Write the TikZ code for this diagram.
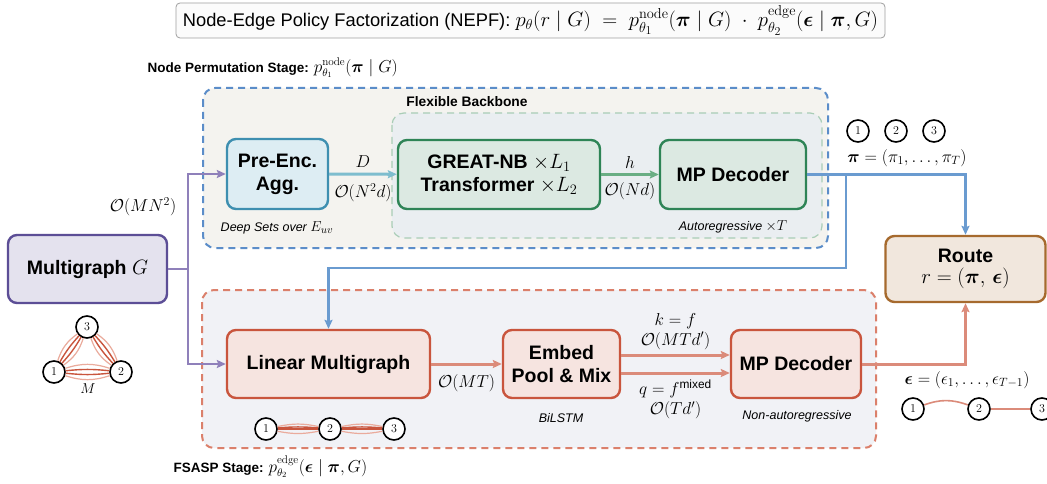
\documentclass[tikz,border=0pt]{standalone}
\usepackage{amsmath,amssymb}
\usepackage{fontspec}
\setsansfont{Liberation Sans}
\usetikzlibrary{arrows.meta,calc}

\definecolor{blueD}{HTML}{5B8DC9}
\definecolor{panelB}{HTML}{F4F3EF}
\definecolor{greenDash}{HTML}{A9CDB6}
\definecolor{panelG}{HTML}{EAEEF1}
\definecolor{tealD}{HTML}{3E8FB0}
\definecolor{tealF}{HTML}{DDEDF3}
\definecolor{tealA}{HTML}{7EBDCE}
\definecolor{grnD}{HTML}{2E8456}
\definecolor{grnF}{HTML}{DCE9E2}
\definecolor{grnA}{HTML}{6AAE84}
\definecolor{blueA}{HTML}{6A9BD0}
\definecolor{brnD}{HTML}{A66A2E}
\definecolor{brnF}{HTML}{F1E7DD}
\definecolor{mgD}{HTML}{5C4E96}
\definecolor{mgF}{HTML}{E4E2EE}
\definecolor{mgA}{HTML}{8F80BA}
\definecolor{redDash}{HTML}{DB806B}
\definecolor{panelR}{HTML}{F1F2F6}
\definecolor{redD}{HTML}{C9553D}
\definecolor{redF}{HTML}{F6E4E0}
\definecolor{redA}{HTML}{DB8B7A}
\definecolor{redL}{HTML}{EAAB9C}

\newcommand\boxfont{\fontsize{19.5}{23}\selectfont\sffamily\bfseries}
\newcommand\notefont{\fontsize{12.5}{15}\selectfont\sffamily\itshape}
\newcommand\stagefont{\fontsize{13.5}{16}\selectfont\sffamily\bfseries}
\newcommand\mathlab{\fontsize{17}{20}\selectfont}
\newcommand\midmath{\fontsize{16}{18}\selectfont}
\newcommand\numfont{\fontsize{12}{13}\selectfont}

\begin{document}
\begin{tikzpicture}[x=1pt,y=-1pt,
  box/.style={draw, rounded corners=9pt, line width=2.4pt, align=center, inner sep=0pt, font=\boxfont},
  tealbox/.style={box, draw=tealD, fill=tealF},
  grnbox/.style={box, draw=grnD, fill=grnF},
  redbox/.style={box, draw=redD, fill=redF},
  note/.style={font=\notefont},
  lab/.style={font=\mathlab, text=black, inner sep=1pt},
  tip/.style={-{Stealth[length=9pt,width=8pt,inset=1.5pt]}},
  vtx/.style={circle, draw, line width=1.6pt, fill=white, minimum size=22pt, inner sep=0pt, font=\numfont},
  medge/.style={redD, line width=1.4pt},
  ledge/.style={redL, line width=1.2pt}]
\useasboundingbox (0,0) rectangle (1047,484);
\fill[white] (0,0) rectangle (1047,484);

\node[draw=gray!75, fill=gray!3, rounded corners=4pt, line width=0.8pt, minimum width=709pt, minimum height=35pt, inner sep=0pt] (nepf) at (530.5,20.5)
  {\fontsize{18.3}{21}\selectfont\sffamily Node-Edge Policy Factorization (NEPF): {\fontsize{20.74}{24}\selectfont$p_\theta(r \mid G) \;=\; p^{\mathrm{node}}_{\theta_1}(\boldsymbol{\pi} \mid G) \;\cdot\; p^{\mathrm{edge}}_{\theta_2}(\boldsymbol{\epsilon} \mid \boldsymbol{\pi}, G)$}};

% panels
\draw[blueD, dash pattern=on 7pt off 5pt, line width=2pt, fill=panelB, rounded corners=12pt] (203,88) rectangle (828,248);
\draw[greenDash, dash pattern=on 7pt off 5pt, line width=1.2pt, fill=panelG, rounded corners=12pt] (392,113) rectangle (822,238);
\draw[redDash, dash pattern=on 7pt off 5pt, line width=2pt, fill=panelR, rounded corners=12pt] (202,290) rectangle (876,448);

\node[anchor=west, font=\stagefont] (stage1) at (144,68) {Node Permutation Stage: {\midmath$p^{\mathrm{node}}_{\theta_1}(\boldsymbol{\pi} \mid G)$}};
\node[anchor=west, font=\stagefont] (stage2) at (170,467) {FSASP Stage: {\midmath$p^{\mathrm{edge}}_{\theta_2}(\boldsymbol{\epsilon} \mid \boldsymbol{\pi}, G)$}};
\node[font=\fontsize{13.8}{16}\selectfont\sffamily\bfseries] (flex) at (467,102) {Flexible Backbone};

% boxes
\node[box, draw=mgD, fill=mgF, minimum width=159pt, minimum height=68pt] (multi) at (87.5,269) {Multigraph $G$};
\node[tealbox, minimum width=101pt, minimum height=70pt] (pre) at (277.5,174) {Pre-Enc.\\Agg.};
\node[grnbox, minimum width=202pt, minimum height=69pt] (great) at (499,174.5) {GREAT-NB $\times L_1$\\Transformer $\times L_2$};
\node[grnbox, minimum width=146pt, minimum height=69pt] (mpdec) at (733,174.5) {MP Decoder};
\node[box, draw=brnD, fill=brnF, minimum width=160pt, minimum height=66pt] (route) at (965.5,269) {Route\\[-2pt]\mdseries$r = (\boldsymbol{\pi},\, \boldsymbol{\epsilon})$};
\node[redbox, minimum width=203pt, minimum height=68pt] (linm) at (328.5,364) {Linear Multigraph};
\node[redbox, minimum width=117pt, minimum height=68pt] (embed) at (561.5,364) {Embed\\Pool \& Mix};
\node[redbox, minimum width=130pt, minimum height=68pt] (mpdec2) at (796,364) {MP Decoder};

\node[note] (deepsets) at (277,228) {Deep Sets over {\fontsize{15}{17}\selectfont$E_{uv}$}};
\node[note] (autoreg) at (733,227) {Autoregressive {\fontsize{15}{17}\selectfont$\times T$}};
\node[note] (bilstm) at (561,418) {BiLSTM};
\node[note] (nonauto) at (797,416) {Non-autoregressive};

% connectors
\coordinate (split) at (188,269);
\draw[mgA, line width=2.4pt] (multi.east) -- (split);
\draw[mgA, line width=2.4pt, tip] (split) |- (pre.west);
\draw[mgA, line width=2.4pt, tip] (split) |- (linm.west);
\node[lab] (cmn) at (143,207) {$\mathcal{O}(MN^2)$};

\draw[tealA, line width=3pt, tip] (pre) -- node[lab, above=4pt] {$D$} node[lab, below=7pt] {$\mathcal{O}(N^2d)$} (great);
\draw[grnA, line width=3pt, tip] (great) -- node[lab, above=4pt] {$h$} node[lab, below=6pt] {$\mathcal{O}(Nd)$} (mpdec);

\coordinate (tap) at (846,174.5);
\coordinate (drop) at (846,268);
\draw[blueA, line width=2.4pt, tip] (mpdec.east) -| (route.north);
\draw[blueA, line width=2.4pt, tip] (tap) -- (drop) -| (linm.north);

\draw[redA, line width=3pt, tip] (linm) -- node[lab, below=8pt] {$\mathcal{O}(MT)$} (embed);
\draw[redA, line width=3pt, tip] ([yshift=9pt]embed.east) -- node[lab, above=3pt, align=center] {$k = f$\\$\mathcal{O}(MTd')$} ([yshift=9pt]mpdec2.west);
\draw[redA, line width=3pt, tip] ([yshift=-9pt]embed.east) -- node[lab, below=4pt, align=center] {$q = f^{\textsf{mixed}}$\\$\mathcal{O}(Td')$} ([yshift=-9pt]mpdec2.west);
\draw[redA, line width=3pt, tip] (mpdec2.east) -| (route.south);

% permutation
\node[vtx] (p1) at (858,131) {1};
\node[vtx] (p2) at (896,131) {2};
\node[vtx] (p3) at (934,131) {3};
\node[lab, font=\fontsize{18}{20}\selectfont] (pilab) at (907,158) {$\boldsymbol{\pi} = (\pi_1, \ldots, \pi_T)$};

% multigraph G
\node[vtx] (g3) at (87,327) {3};
\node[vtx] (g1) at (54,372) {1};
\node[vtx] (g2) at (121,372) {2};
\foreach \a/\b in {g1/g2, g2/g3, g3/g1} {
  \draw[ledge] (\a) to[bend left=18] (\b);
  \draw[medge] (\a) to[bend left=6] (\b);
  \draw[medge] (\a) to[bend right=6] (\b);
  \draw[ledge] (\a) to[bend right=18] (\b);
}
\node[font=\fontsize{14}{16}\selectfont] (mlab) at (88,389) {$M$};

% linear multigraph
\node[vtx] (l1) at (266,429) {1};
\node[vtx] (l2) at (330,429) {2};
\node[vtx] (l3) at (394,429) {3};
\foreach \a/\b in {l1/l2, l2/l3} {
  \draw[ledge] (\a) to[bend left=12] (\b);
  \draw[medge] (\a) to[bend left=5] (\b);
  \draw[medge] (\a) -- (\b);
  \draw[ledge] (\a) to[bend right=11] (\b);
}

% edge choices
\node[lab] (epslab) at (967,380) {$\boldsymbol{\epsilon} = (\epsilon_1, \ldots, \epsilon_{T-1})$};
\node[vtx] (e1) at (913,409) {1};
\node[vtx] (e2) at (979,409) {2};
\node[vtx] (e3) at (1042,409) {3};
\draw[redA, line width=1.6pt] (e1) to[bend left=20] (e2);
\draw[redA, line width=1.6pt] (e2) -- (e3);
\end{tikzpicture}
\end{document}
